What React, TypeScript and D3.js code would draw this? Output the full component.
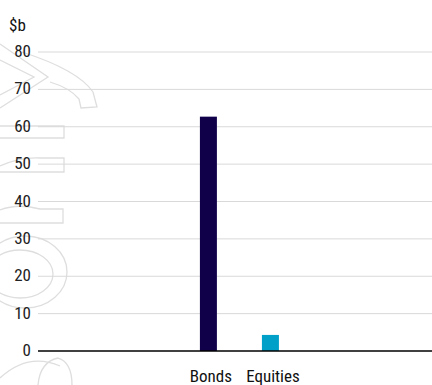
import React from "react";
import * as d3 from "d3";

const categories = ["Bonds", "Equities"];
const values = [62.7, 4.3];
const barColors = ["#10004a", "#00a0c8"];
const yTicks = [0, 10, 20, 30, 40, 50, 60, 70, 80];
const unitLabel = "$b";

const W = 432;
const H = 385;
const left = 38;
const top = 52;
const bottom = 351;

const FONT = "'Roboto Condensed', 'Liberation Sans Narrow', Roboto, sans-serif";

export default function App() {
  const y = d3.scaleLinear().domain([0, 80]).range([bottom, top]);
  const x = d3
    .scaleBand<string>()
    .domain(categories)
    .range([left, W])
    .paddingInner(0.726)
    .paddingOuter(2.54)
    .align(0.514);

  return (
    <svg
      width={W}
      height={H}
      style={{ position: "absolute", left: 0, top: 0, background: "#fff" }}
    >
      {/* faint background emblem */}
      <g fill="none" stroke="#dedede" strokeWidth={1.3}>
        <path d="M0,44 L48,77 L0,108" />
        <path d="M0,60 L34,77 L0,95" />
        <path d="M22,52 Q78,70 93,92 L97,107 L81,108 L79,99 Q70,88 50,82" />
        <path d="M0,126 H64 V138 H0" />
        <path d="M0,166 Q20,157 40,158 H64 V172 H0" />
        <path d="M0,210 Q18,203 40,209 H63 V223 H0" />
        <ellipse cx={25} cy={272} rx={42} ry={36} />
        <ellipse cx={20} cy={274} rx={33} ry={24} />
        <path d="M0,378 Q28,352 60,366" />
        <path d="M38,385 Q40,362 58,358 Q72,362 72,385" />
      </g>

      {/* gridlines */}
      {yTicks
        .filter((t) => t !== 0)
        .map((t) => (
          <line
            key={t}
            x1={left}
            x2={W}
            y1={y(t)}
            y2={y(t)}
            stroke="#d9d9d9"
            strokeWidth={1}
          />
        ))}

      {/* tick labels */}
      {yTicks.map((t) => (
        <text
          key={t}
          x={31}
          y={y(t)}
          dy="0.3em"
          textAnchor="end"
          fontFamily={FONT}
          fontSize={17}
          fill="#222"
        >
          {t}
        </text>
      ))}

      <text x={9} y={31} fontFamily={FONT} fontSize={17} fill="#111">
        {unitLabel}
      </text>

      {/* bars */}
      {categories.map((c, i) => (
        <rect
          key={c}
          x={x(c)}
          y={y(values[i])}
          width={x.bandwidth()}
          height={y(0) - y(values[i])}
          fill={barColors[i]}
        />
      ))}

      {/* baseline */}
      <line x1={left} x2={W} y1={y(0)} y2={y(0)} stroke="#000" strokeWidth={1.5} />

      {/* category labels */}
      {categories.map((c) => (
        <text
          key={c}
          x={(x(c) ?? 0) + x.bandwidth() / 2 + 2.5}
          y={382}
          textAnchor="middle"
          fontFamily={FONT}
          fontSize={17}
          fill="#111"
        >
          {c}
        </text>
      ))}
    </svg>
  );
}
